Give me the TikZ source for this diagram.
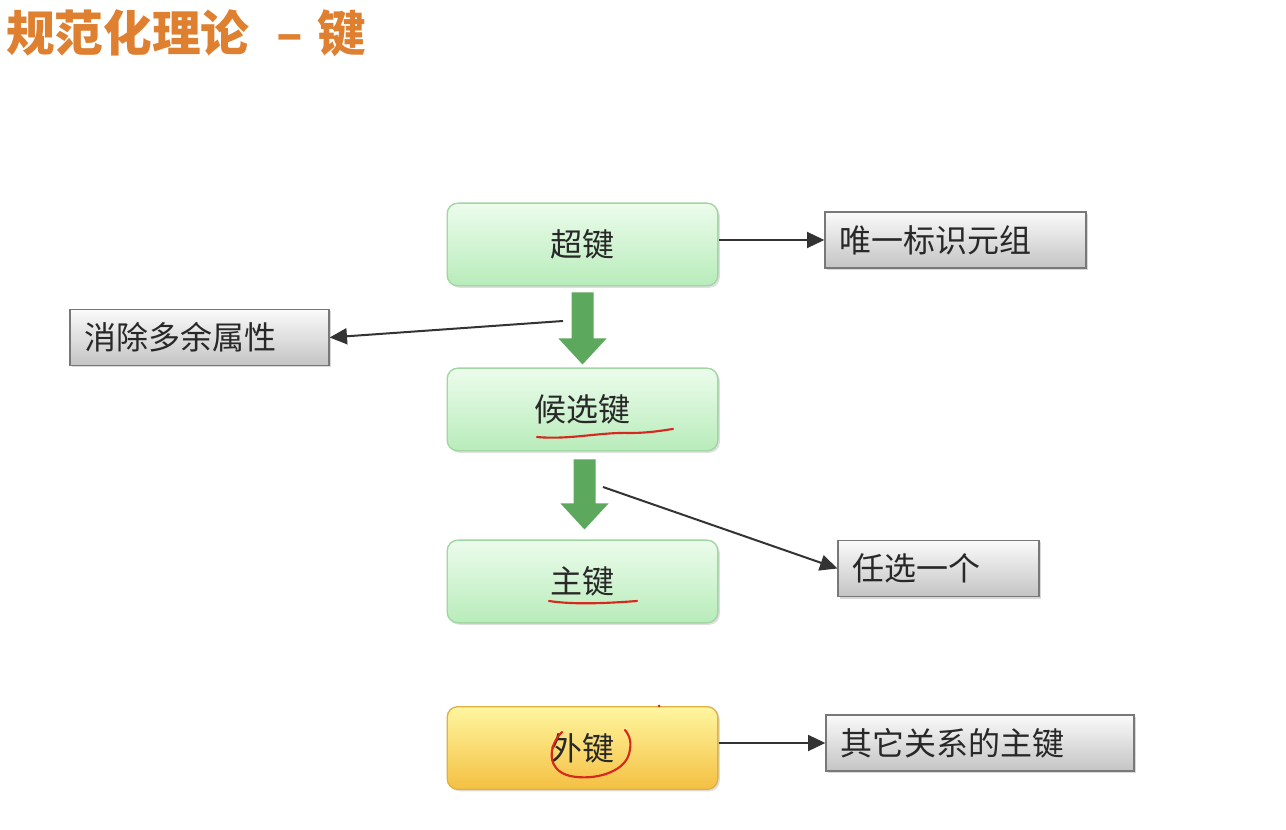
\documentclass[tikz,border=0pt]{standalone}
\usepackage{fontspec}
\newfontfamily\cjk{Noto Sans CJK SC}
\usetikzlibrary{shadows,arrows.meta,calc}
\definecolor{titleorange}{RGB}{222,128,48}
\definecolor{greentop}{RGB}{236,252,236}
\definecolor{greenbot}{RGB}{184,236,186}
\definecolor{greenedge}{RGB}{160,214,162}
\definecolor{yellowtop}{RGB}{255,246,160}
\definecolor{yellowbot}{RGB}{244,192,66}
\definecolor{yellowedge}{RGB}{222,176,70}
\definecolor{graytop}{RGB}{250,250,250}
\definecolor{graybot}{RGB}{196,196,196}
\definecolor{grayedge}{RGB}{120,120,120}
\definecolor{blockgreen}{RGB}{92,168,92}
\definecolor{inkred}{RGB}{214,40,30}
\definecolor{textgray}{RGB}{40,40,40}
\tikzset{
  keybox/.style={draw=greenedge, line width=1pt, rounded corners=8pt,
    top color=greentop, bottom color=greenbot,
    minimum width=203pt, minimum height=62pt, font=\cjk\fontsize{24}{28}\selectfont,
    text=textgray, drop shadow={shadow xshift=1.5pt, shadow yshift=-1.5pt, opacity=0.25}},
  fkbox/.style={keybox, draw=yellowedge, top color=yellowtop, bottom color=yellowbot},
  notebox/.style={draw=grayedge, line width=1pt, top color=graytop, bottom color=graybot,
    minimum height=42pt, inner xsep=11pt, align=left,
    font=\cjk\fontsize{24}{28}\selectfont, text=textgray,
    drop shadow={shadow xshift=1.5pt, shadow yshift=-1.5pt, opacity=0.3}},
  linkarrow/.style={draw=black!80, line width=1.5pt, -{Triangle[length=13pt,width=12pt]}},
  blockarrow/.style={fill=blockgreen, draw=none},
  ink/.style={draw=inkred, line width=1.6pt, line cap=round, line join=round},
}
\begin{document}
\begin{tikzpicture}[x=0.75pt,y=-0.75pt]
\useasboundingbox (0,0) rectangle (1286,830);
\fill[white] (0,0) rectangle (1286,830);

% title
\node[anchor=west, text=titleorange, font=\cjk\bfseries\fontsize{36.5}{42}\selectfont, inner sep=0pt] (title) at (6,33) {规范化理论\hspace{0.55em}–\hspace{0.3em}键};

% key boxes
\node[keybox] (sk) at (582.5,244.5) {超键};
\node[keybox] (ck) at (582.5,409.5) {候选键};
\node[keybox] (pk) at (582.5,581.5) {主键};
\node[fkbox]  (fk) at (582.5,748) {外键};

% note boxes
\node[notebox, text width=173.75pt] (n1) at (955.5,240) {唯一标识元组};
\node[notebox, text width=172.25pt] (n2) at (199.5,337.5) {消除多余属性};
\node[notebox, text width=128.75pt] (n3) at (938.5,568.5) {任选一个};
\node[notebox, text width=209pt] (n4) at (980,743) {其它关系的主键};

% green block arrows
\coordinate (b1s) at ($(sk.south)+(0,6)$);
\coordinate (b1e) at ($(ck.north)+(0,-3)$);
\fill[blockarrow] ($(b1s)+(-11,0)$) -- ($(b1s)+(11,0)$) -- ($(b1e)+(11,-26)$) -- ($(b1e)+(24,-26)$)
   -- (b1e) -- ($(b1e)+(-24,-26)$) -- ($(b1e)+(-11,-26)$) -- cycle;
\coordinate (b2s) at ($(ck.south)+(2,8)$);
\coordinate (b2e) at ($(pk.north)+(2,-10)$);
\fill[blockarrow] ($(b2s)+(-11,0)$) -- ($(b2s)+(11,0)$) -- ($(b2e)+(11,-26)$) -- ($(b2e)+(24,-26)$)
   -- (b2e) -- ($(b2e)+(-24,-26)$) -- ($(b2e)+(-11,-26)$) -- cycle;

% connector arrows
\coordinate (c1) at (563,321);
\coordinate (c2) at (603,487);
\draw[linkarrow] (sk.east |- n1.west) -- (n1.west);
\draw[linkarrow] (c1) -- (n2.east);
\draw[linkarrow] (c2) -- (n3.west);
\draw[linkarrow] (fk.east |- n4.west) -- (n4.west);

% handwritten red annotations
\draw[ink] (537,437) .. controls (570,440) and (600,432) .. (630,433) .. controls (650,433) and (665,430) .. (673,429);
\draw[ink] (549,601) .. controls (575,605) and (610,603) .. (637,601);
\draw[ink] (562,732) .. controls (548,746) and (546,770) .. (570,776)
   .. controls (595,781) and (624,772) .. (629,754) .. controls (632,743) and (630,736) .. (625,730);
\fill[inkred] (659,706) circle (1.5);
\end{tikzpicture}
\end{document}
